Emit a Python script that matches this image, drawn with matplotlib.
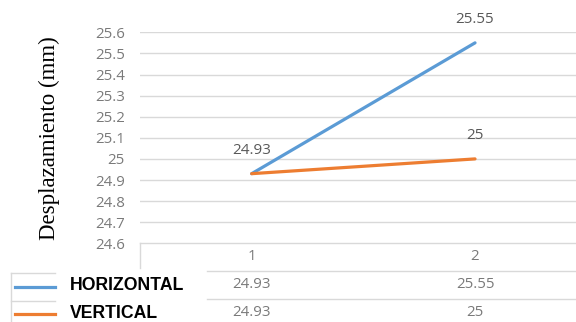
import matplotlib
matplotlib.use("Agg")
import matplotlib.pyplot as plt
from matplotlib.transforms import blended_transform_factory
import numpy as np

# data
categories = ["1", "2"]
horizontal = [24.93, 25.55]
vertical = [24.93, 25.0]
series_names = ["HORIZONTAL", "VERTICAL"]
series_colors = ["#5B9BD5", "#ED7D31"]
yticks = [24.6, 24.7, 24.8, 24.9, 25.0, 25.1, 25.2, 25.3, 25.4, 25.5, 25.6]
ytick_labels = ["24.6", "24.7", "24.8", "24.9", "25", "25.1", "25.2", "25.3", "25.4", "25.5", "25.6"]
# point labels shown on the chart (empty = no label, the two series overlap at point 1)
horizontal_labels = ["24.93", "25.55"]
vertical_labels = ["", "25"]
table_values = [["24.93", "25.55"], ["24.93", "25"]]

W, H = 576, 322
fig = plt.figure(figsize=(W / 100, H / 100), dpi=100)
# plot area (pixels): left 140, right 586.7, top 32.3, bottom 243.3
ax = fig.add_axes([140 / W, 1 - 243.3 / H, 446.7 / W, 211 / H])

grid_col = "#D9D9D9"
tick_col = "#7A7A7A"
lab_col = "#595959"
gfont = "Open Sans"

x = np.arange(1, len(categories) + 1)
ax.set_xlim(0.5, len(categories) + 0.5)
ax.set_ylim(24.6, 25.6)

for vals, labs, col in zip([horizontal, vertical], [horizontal_labels, vertical_labels], series_colors):
    ax.plot(x, vals, color=col, lw=2.3, solid_capstyle="round", zorder=3)
    for xi, v, l in zip(x, vals, labs):
        if l:
            ax.annotate(l, (xi, v), xytext=(0, 16.8), textcoords="offset points",
                        ha="center", va="center", fontsize=11, color=lab_col, family=gfont)

# grid / axes
ax.set_yticks(yticks)
ax.set_yticklabels(ytick_labels, family=gfont, fontsize=10.8, color=tick_col)
ax.tick_params(axis="y", length=0, pad=11)
ax.set_xticks([])
for y in yticks[1:]:
    ax.axhline(y, color=grid_col, lw=1, zorder=1)
for s in ["top", "right", "left"]:
    ax.spines[s].set_visible(False)
ax.spines["bottom"].set_color(grid_col)
ax.spines["bottom"].set_linewidth(1)

ax.set_ylabel("Desplazamiento (mm)", family="Liberation Serif", fontsize=16.5, color="black")
ax.yaxis.set_label_coords(-(140 - 60) / 446.7, 0.5)

# data table below the chart
trans = blended_transform_factory(fig.transFigure, ax.transAxes)
def ay(py):
    return (243.3 - py) / 211.0
def fx(px):
    return px / W

kw = dict(transform=trans, color=grid_col, lw=1, clip_on=False)
ax.plot([fx(140), fx(140)], [ay(243.3), ay(268)], **kw)
ax.plot([fx(11), fx(11)], [ay(273), ay(330)], **kw)
for py in [271, 298.5]:
    ax.plot([fx(11), fx(55)], [ay(py + 2), ay(py + 2)], **kw)
    ax.plot([fx(207), fx(600)], [ay(py), ay(py)], **kw)
ax.plot([1.5, 1.5], [0, ay(330)], color=grid_col, lw=1, clip_on=False)

tcat = blended_transform_factory(ax.transData, ax.transAxes)
for xi, c in zip(x, categories):
    ax.text(xi, ay(257), c, transform=tcat, ha="center", va="center", fontsize=10.8,
            color=tick_col, family=gfont)
row_y = [285, 312]
for r, (name, col, vals) in enumerate(zip(series_names, series_colors, table_values)):
    for xi, v in zip(x, vals):
        ax.text(xi, ay(row_y[r]), v, transform=tcat, ha="center", va="center", fontsize=10.8,
                color=tick_col, family=gfont)
    ax.plot([fx(15), fx(55)], [ay(row_y[r] + 2), ay(row_y[r] + 2)], transform=trans, color=col,
            lw=2.3, clip_on=False)
    ax.text(fx(70), ay(row_y[r] + 1), name, transform=trans, ha="left", va="center",
            fontsize=12.7, fontweight="bold", family="Liberation Sans", color="black")

fig.savefig("out.png", dpi=100)
